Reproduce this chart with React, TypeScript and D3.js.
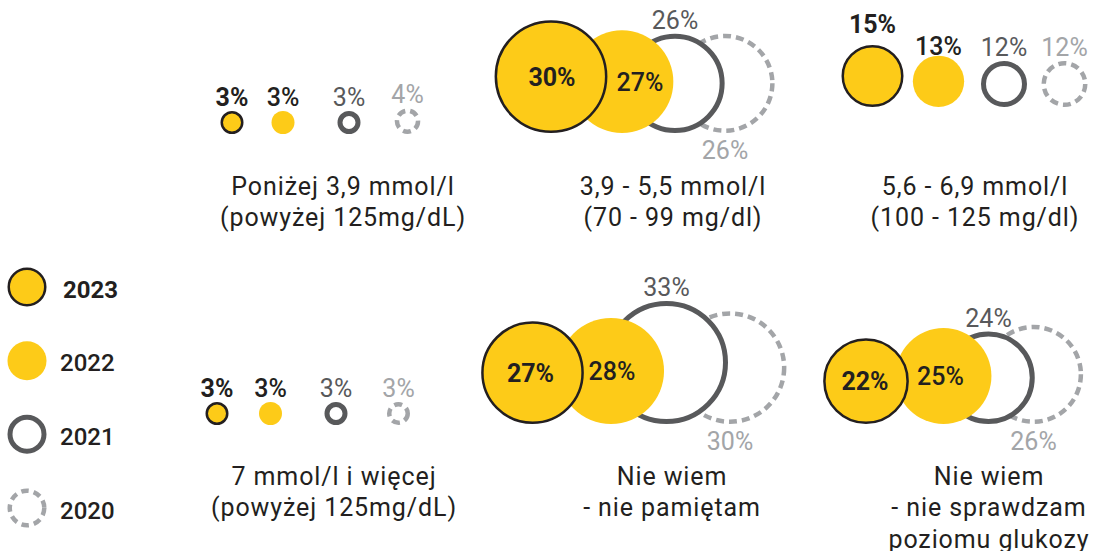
import React from "react";
import * as d3 from "d3";

const years = ["2023", "2022", "2021", "2020"];
const categoryLabels = [
  ["Poniżej 3,9 mmol/l", "(powyżej 125mg/dL)"],
  ["3,9 - 5,5 mmol/l", "(70 - 99 mg/dl)"],
  ["5,6 - 6,9 mmol/l", "(100 - 125 mg/dl)"],
  ["7 mmol/l i więcej", "(powyżej 125mg/dL)"],
  ["Nie wiem", "- nie pamiętam"],
  ["Nie wiem", "- nie sprawdzam", "poziomu glukozy"],
];
const values2023 = [3, 30, 15, 3, 27, 22];
const values2022 = [3, 27, 13, 3, 28, 25];
const values2021 = [3, 26, 12, 3, 33, 24];
const values2020 = [4, 26, 12, 3, 30, 26];
const series = [values2023, values2022, values2021, values2020];

// layout (positions, not data)
const layout = [
  { xs: [232, 283, 349, 407.5], base: 134, pos: ["above", "above", "above", "above"], dx: [0, 0, 0, 0], dy: [0, 0, 0, 0], tx: 343, ty: 194.5 },
  { xs: [551, 622, 675, 725], base: 133, pos: ["inside", "inside", "above", "below"], dx: [1, 18, 0, 0], dy: [0, 0, 0, 0], tx: 673, ty: 194.5 },
  { xs: [872.5, 938.5, 1004, 1064.5], base: 107, pos: ["above", "above", "above", "above"], dx: [0, 0, 0, 0], dy: [-7, 4, 0, 0], tx: 975, ty: 194.5 },
  { xs: [217, 270.5, 336, 398.5], base: 425, pos: ["above", "above", "above", "above"], dx: [0, 0, 0, 0], dy: [0, 0, 0, 0], tx: 334, ty: 484.5 },
  { xs: [532.5, 611, 666.5, 730], base: 424, pos: ["inside", "inside", "above", "below"], dx: [-2, 1, 0, 0], dy: [0, 0, 0, 0], tx: 672, ty: 484.5 },
  { xs: [866, 943.5, 988.5, 1033.5], base: 424, pos: ["inside", "inside", "above", "below"], dx: [-1, -3, 0, 0], dy: [0, 0, 0, 0], tx: 989, ty: 484.5 },
];

const YELLOW = "#FDCB18";
const DARK = "#231f20";
const GREY = "#58595b";
const LIGHT = "#a3a5a8";
const FONT = "Roboto, 'Noto Sans', sans-serif";

const styles = [
  { fill: YELLOW, stroke: DARK, sw: 2.5, dash: null as string | null, text: DARK, weight: 700 },
  { fill: YELLOW, stroke: "none", sw: 0, dash: null, text: DARK, weight: 500 },
  { fill: "#ffffff", stroke: GREY, sw: 5, dash: null, text: GREY, weight: 400 },
  { fill: "#ffffff", stroke: LIGHT, sw: 4.5, dash: "8 5", text: LIGHT, weight: 400 },
];

const rScale = d3.scaleLinear().domain([3, 12, 15, 33]).range([11.5, 23, 31, 61.5]);

const legendY = d3.scalePoint<string>().domain(years).range([287, 508]);

export default function App() {
  return (
    <svg width={1094} height={551} style={{ position: "absolute", left: 0, top: 0, background: "#fff" }} fontFamily={FONT}>
      {layout.map((g, gi) => {
        const order = [3, 2, 1, 0];
        return (
          <g key={gi}>
            {order.map((si) => {
              const v = series[si][gi];
              const R = rScale(v);
              const st = styles[si];
              const cy = g.base - R;
              return (
                <circle
                  key={si}
                  cx={g.xs[si]}
                  cy={cy}
                  r={R - st.sw / 2}
                  fill={st.fill}
                  stroke={st.stroke}
                  strokeWidth={st.sw}
                  strokeDasharray={st.dash ?? undefined}
                />
              );
            })}
            {order.map((si) => {
              const v = series[si][gi];
              const R = rScale(v);
              const st = styles[si];
              const cy = g.base - R;
              const p = g.pos[si];
              const y = (p === "inside" ? cy + 9 : p === "above" ? cy - R - 5 : cy + R + 26) + g.dy[si];
              return (
                <text
                  key={"t" + si}
                  x={g.xs[si] + g.dx[si]}
                  y={y}
                  textAnchor="middle"
                  fontSize={25}
                  fontWeight={st.weight}
                  fill={st.text}
                >
                  {v}%
                </text>
              );
            })}
            {categoryLabels[gi].map((line, li) => (
              <text
                key={"c" + li}
                x={g.tx}
                y={g.ty + li * 31.5}
                textAnchor="middle"
                fontSize={25}
                fontWeight={400}
                letterSpacing={0.9}
                fill={DARK}
              >
                {line}
              </text>
            ))}
          </g>
        );
      })}
      {years.map((yr, i) => {
        const st = styles[i];
        const cy = legendY(yr)!;
        return (
          <g key={yr}>
            <circle
              cx={27}
              cy={cy}
              r={19.5 - st.sw / 2}
              fill={st.fill}
              stroke={st.stroke}
              strokeWidth={st.sw}
              strokeDasharray={st.dash ? "7.5 5" : undefined}
            />
            <text x={i === 0 ? 63 : 60} y={cy + 10.5} fontSize={24} fontWeight={i === 0 ? 700 : 500} fill={DARK}>
              {yr}
            </text>
          </g>
        );
      })}
    </svg>
  );
}
